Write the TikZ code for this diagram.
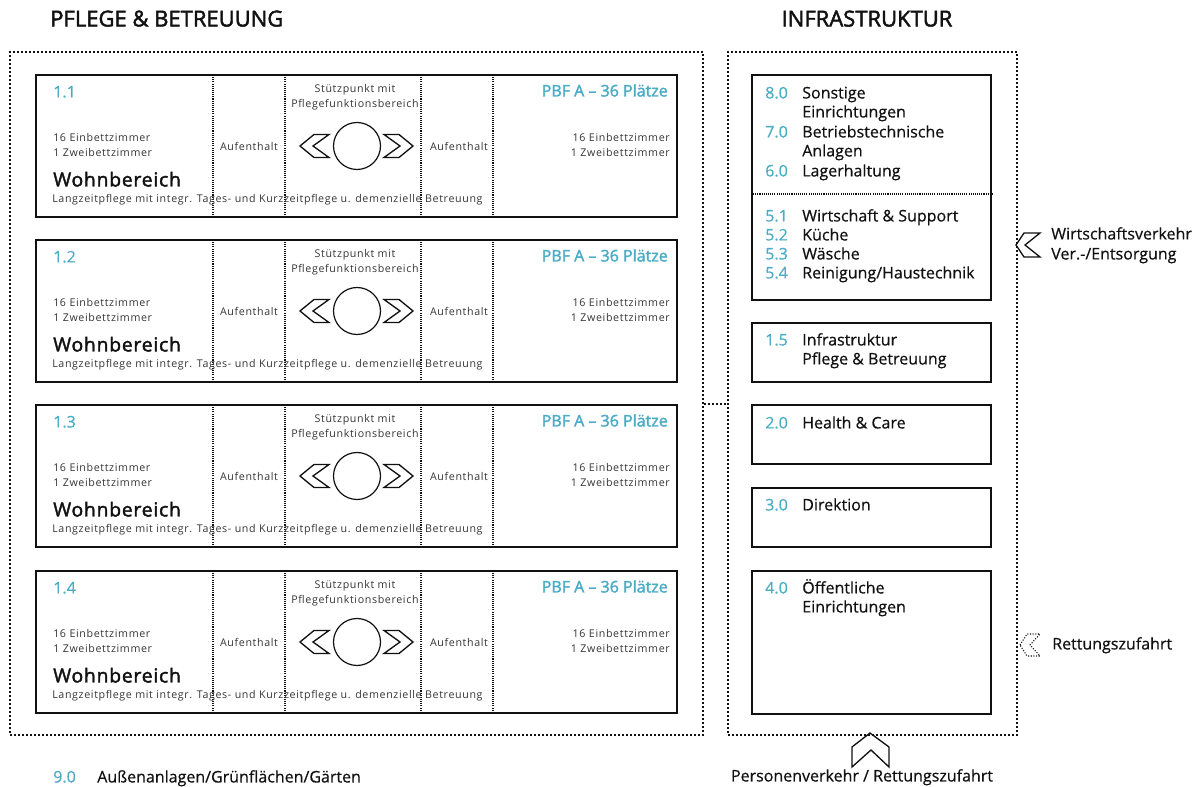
\documentclass[tikz,border=0pt]{standalone}
\usepackage{fontspec}
\setmainfont[FakeBold=0.5]{Open Sans}
\newfontfamily\lightfont[LetterSpace=6]{Open Sans}
\newfontfamily\semifont[FakeBold=2]{Open Sans}
\usetikzlibrary{fit}
\definecolor{pfblue}{HTML}{4BACC6}
\definecolor{ink}{HTML}{111111}

\tikzset{
  frame/.style={draw=ink,line width=1.5pt,dash pattern=on 1.5pt off 1.5pt,inner sep=0pt},
  block/.style={draw=ink,line width=1.6pt,inner sep=0pt},
  sep/.style={draw=ink,line width=0.8pt,dash pattern=on 0.8pt off 0.8pt},
  chev/.style={draw=ink,line width=1pt,line join=miter},
  txt/.style={inner sep=0pt,text height=1.5ex,text depth=.25ex},
  num/.style={txt,color=pfblue,font=\fontsize{12}{14}\selectfont},
  lbl/.style={txt,color=ink,font=\fontsize{12}{14}\selectfont},
  small/.style={txt,color=ink!85,font=\lightfont\fontsize{8}{10}\selectfont},
  head/.style={txt,color=ink,font=\semifont\fontsize{16.5}{18}\selectfont}
}

\begin{document}
\begin{tikzpicture}[x=0.75pt,y=-0.75pt]
    \useasboundingbox (0,0) rectangle (1200,787);
    % titles
    \node[head,anchor=west] (tpflege) at (50,22) {PFLEGE \& BETREUUNG};
    \node[head] (tinfra) at (867,22) {INFRASTRUKTUR};
    % outer frames
    \node[frame,fit={(10,52) (703,735)}] (pflege) {};
    \node[frame,fit={(728,52) (1017,735)}] (infra) {};
    % Wohnbereiche
    \foreach \n/\y in {1/75,2/240,3/405,4/571}{
      \node[block,fit={(36,\y) (677,\y+142)}] (wb\n) {};
      \draw[sep] (213,\y) -- (213,\y+142);
      \draw[sep] (285,\y) -- (285,\y+142);
      \draw[sep] (421,\y) -- (421,\y+142);
      \draw[sep] (493,\y) -- (493,\y+142);
      \node[num,anchor=west] (nr\n) at (53,\y+18) {1.\n};
      \node[num,font=\semifont\fontsize{12}{14}\selectfont,anchor=east] (pbf\n) at (668,\y+17) {PBF A – 36 Plätze};
      \node[small] (stza\n) at (355,\y+13) {Stützpunkt mit};
      \node[small] (stzb\n) at (355,\y+28) {Pflegefunktionsbereich};
      \node[small,anchor=west] (ezl\n) at (53,\y+62) {16 Einbettzimmer};
      \node[small,anchor=west] (zzl\n) at (53,\y+77) {1 Zweibettzimmer};
      \node[small,anchor=east] (ezr\n) at (670,\y+62) {16 Einbettzimmer};
      \node[small,anchor=east] (zzr\n) at (670,\y+77) {1 Zweibettzimmer};
      \node[small] (aufl\n) at (249,\y+71) {Aufenthalt};
      \node[small] (aufr\n) at (459,\y+71) {Aufenthalt};
      \node[draw=ink,line width=0.9pt,circle,minimum size=35.25pt,inner sep=0pt] (stz\n) at (357,\y+71) {};
      \draw[chev,shift={(0,\y+71)}] (300,0) -- (314,-11.5) -- (329,-11.5) -- (313,0) -- (329,11.5) -- (314,11.5) -- cycle;
      \draw[chev,shift={(0,\y+71)}] (413,0) -- (399,-11.5) -- (384,-11.5) -- (400,0) -- (384,11.5) -- (399,11.5) -- cycle;
      \node[txt,color=ink,font=\semifont\fontsize{14.5}{16}\selectfont\addfontfeatures{LetterSpace=4},anchor=west] (wbt\n) at (53,\y+107) {Wohnbereich};
      \node[small,anchor=west] (wbd\n) at (52,\y+123) {Langzeitpflege mit integr. Tages- und Kurzzeitpflege u. demenzielle Betreuung};
    }
    \draw[frame] (pflege.east |- wb3.north) -- (infra.west |- wb3.north);
    % Infrastruktur
    \node[block,fit={(752,75) (991,300)}] (wirt) {};
    \draw[sep] (wirt.west |- 0,194) -- (wirt.east |- 0,194);
    \node[num,anchor=west] (n80) at (765,94) {8.0};
    \node[lbl,anchor=west] (l80) at (802,94) {Sonstige};
    \node[lbl,anchor=west] (l80b) at (802,113) {Einrichtungen};
    \node[num,anchor=west] (n70) at (765,133) {7.0};
    \node[lbl,anchor=west] (l70) at (802,133) {Betriebstechnische};
    \node[lbl,anchor=west] (l70b) at (802,152) {Anlagen};
    \node[num,anchor=west] (n60) at (765,172) {6.0};
    \node[lbl,anchor=west] (l60) at (802,172) {Lagerhaltung};
    \node[num,anchor=west] (n51) at (765,217) {5.1};
    \node[lbl,anchor=west] (l51) at (802,217) {Wirtschaft \& Support};
    \node[num,anchor=west] (n52) at (765,236) {5.2};
    \node[lbl,anchor=west] (l52) at (802,236) {Küche};
    \node[num,anchor=west] (n53) at (765,255) {5.3};
    \node[lbl,anchor=west] (l53) at (802,255) {Wäsche};
    \node[num,anchor=west] (n54) at (765,274) {5.4};
    \node[lbl,anchor=west] (l54) at (802,274) {Reinigung/Haustechnik};
    \node[block,fit={(752,323) (991,382)}] (ipb) {};
    \node[num,anchor=west] (n15) at (765,341) {1.5};
    \node[lbl,anchor=west] (l15) at (802,341) {Infrastruktur};
    \node[lbl,anchor=west] (l15b) at (802,360) {Pflege \& Betreuung};
    \node[block,fit={(752,405) (991,464)}] (health) {};
    \node[num,anchor=west] (n20) at (765,424) {2.0};
    \node[lbl,anchor=west] (l20) at (802,424) {Health \& Care};
    \node[block,fit={(752,488) (991,547)}] (dir) {};
    \node[num,anchor=west] (n30) at (765,506) {3.0};
    \node[lbl,anchor=west] (l30) at (802,506) {Direktion};
    \node[block,fit={(752,571) (991,714)}] (oeff) {};
    \node[num,anchor=west] (n40) at (765,589) {4.0};
    \node[lbl,anchor=west] (l40) at (802,589) {Öffentliche};
    \node[lbl,anchor=west] (l40b) at (802,608) {Einrichtungen};
    % Zufahrten
    \draw[chev] (1016,245) -- (1024,233) -- (1040,233) -- (1025,245) -- (1040,257) -- (1024,257) -- cycle;
    \node[lbl,anchor=west] (wv) at (1051,235) {Wirtschaftsverkehr};
    \node[lbl,anchor=west] (ve) at (1051,255) {Ver.-/Entsorgung};
    \draw[chev,line width=0.8pt,dash pattern=on 0.8pt off 1.2pt] (1020,645) -- (1027,634) -- (1040,634) -- (1030,645) -- (1040,656) -- (1027,656) -- cycle;
    \node[lbl,anchor=west] (rz) at (1052,645) {Rettungszufahrt};
    \draw[chev] (870,733) -- (852,747) -- (852,767) -- (871,750) -- (889,767) -- (889,747) -- cycle;
    \node[lbl] (pv) at (862,777) {Personenverkehr / Rettungszufahrt};
    \node[num,anchor=west] (n90) at (53,778) {9.0};
    \node[lbl,anchor=west] (l90) at (97,778) {Außenanlagen/Grünflächen/Gärten};
\end{tikzpicture}
\end{document}
